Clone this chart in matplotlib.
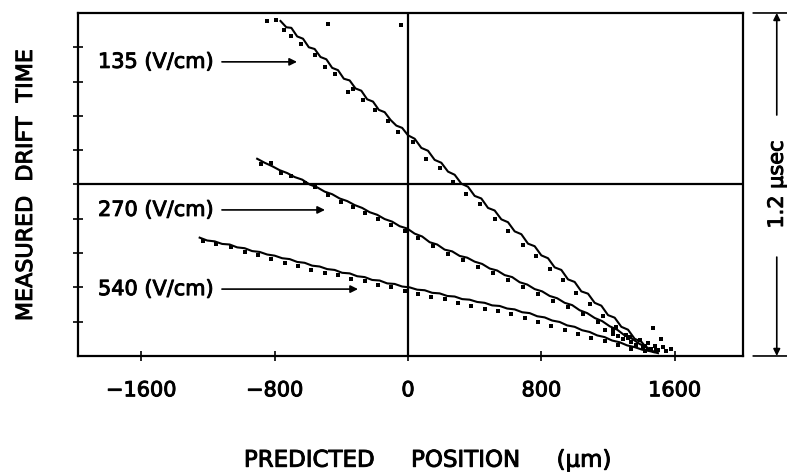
import matplotlib
matplotlib.use("Agg")
import matplotlib.pyplot as plt
import matplotlib.patheffects as pe

# drift time (usec) vs predicted track position (um), three drift fields
fields = ["135 (V/cm)", "270 (V/cm)", "540 (V/cm)"]

pos_135 = [-765, -730, -700, -665, -630, -595, -560, -525, -490, -455, -420, -385, -350,
           -315, -280, -245, -210, -175, -140, -105, -70, -35, 0, 40, 80, 120, 160, 200,
           240, 280, 320, 360, 400, 440, 480, 520, 560, 600, 640, 680, 720, 760, 800, 840,
           880, 920, 960, 1000, 1040, 1080, 1120, 1160, 1200, 1240, 1280, 1320, 1360, 1400,
           1440, 1470]
time_135 = [1.172, 1.150, 1.148, 1.118, 1.110, 1.080, 1.074, 1.046, 1.038, 1.008, 1.000,
            0.970, 0.964, 0.936, 0.928, 0.898, 0.890, 0.861, 0.853, 0.826, 0.806, 0.798,
            0.772, 0.760, 0.728, 0.718, 0.686, 0.676, 0.645, 0.634, 0.603, 0.592, 0.560,
            0.551, 0.518, 0.509, 0.478, 0.468, 0.436, 0.426, 0.393, 0.384, 0.352, 0.342,
            0.310, 0.301, 0.268, 0.259, 0.226, 0.218, 0.186, 0.176, 0.143, 0.134, 0.102,
            0.092, 0.060, 0.050, 0.022, 0.016]

pos_270 = [-905, -860, -815, -770, -725, -680, -635, -590, -545, -500, -455, -410, -365,
           -320, -275, -230, -185, -140, -95, -50, -5, 40, 85, 130, 175, 220, 265, 310,
           355, 400, 445, 490, 535, 580, 625, 670, 715, 760, 805, 850, 895, 940, 985,
           1030, 1075, 1120, 1165, 1210, 1255, 1300, 1345, 1390, 1435, 1475]
time_270 = [0.690, 0.676, 0.664, 0.650, 0.640, 0.626, 0.617, 0.600, 0.590, 0.575, 0.566,
            0.551, 0.542, 0.528, 0.518, 0.503, 0.494, 0.479, 0.470, 0.454, 0.446, 0.428,
            0.418, 0.398, 0.390, 0.372, 0.366, 0.350, 0.344, 0.330, 0.322, 0.306, 0.299,
            0.283, 0.276, 0.258, 0.250, 0.234, 0.226, 0.210, 0.202, 0.186, 0.178, 0.160,
            0.150, 0.133, 0.122, 0.104, 0.092, 0.072, 0.060, 0.042, 0.030, 0.014]

pos_540 = [-1250, -1205, -1160, -1115, -1070, -1025, -980, -935, -890, -845, -800, -755,
           -710, -665, -620, -575, -530, -485, -440, -395, -350, -305, -260, -215, -170,
           -125, -80, -35, 10, 55, 100, 145, 190, 235, 280, 325, 370, 415, 460, 505, 550,
           595, 640, 685, 730, 775, 820, 865, 910, 955, 1000, 1045, 1090, 1135, 1180,
           1225, 1270, 1315, 1360, 1405, 1450, 1500]
time_540 = [0.414, 0.404, 0.401, 0.392, 0.390, 0.380, 0.377, 0.367, 0.364, 0.355, 0.351,
            0.342, 0.339, 0.329, 0.326, 0.316, 0.313, 0.304, 0.301, 0.291, 0.289, 0.279,
            0.276, 0.266, 0.264, 0.254, 0.252, 0.243, 0.240, 0.232, 0.230, 0.221, 0.219,
            0.210, 0.208, 0.199, 0.197, 0.189, 0.186, 0.177, 0.175, 0.166, 0.163, 0.153,
            0.150, 0.139, 0.135, 0.124, 0.119, 0.107, 0.102, 0.090, 0.084, 0.072, 0.066,
            0.054, 0.048, 0.037, 0.031, 0.022, 0.017, 0.010]

# second, fainter band of hits beside each trace
hits_135_x = [-790, -745, -700, -640, -560, -500, -440, -360, -330, -270, -200, -120, -60,
              30, 110, 190, 270, 350, 430, 520, 600, 690, 770, 850, 930, 1010, 1090, 1170,
              1250, 1330, 1410]
hits_135_y = [1.175, 1.140, 1.118, 1.090, 1.052, 1.010, 0.985, 0.922, 0.935, 0.896, 0.862,
              0.822, 0.782, 0.748, 0.690, 0.658, 0.610, 0.566, 0.530, 0.478, 0.436, 0.388,
              0.350, 0.304, 0.266, 0.220, 0.182, 0.140, 0.100, 0.066, 0.030]

hits_270_x = [-880, -820, -760, -700, -620, -560, -480, -400, -330, -260, -180, -100, -20,
              60, 150, 240, 330, 420, 510, 600, 690, 780, 870, 960, 1050, 1140, 1230, 1320,
              1410, 1490]
hits_270_y = [0.672, 0.676, 0.640, 0.628, 0.606, 0.590, 0.564, 0.540, 0.522, 0.500, 0.478,
              0.458, 0.438, 0.412, 0.384, 0.358, 0.336, 0.310, 0.290, 0.266, 0.242, 0.218,
              0.192, 0.170, 0.146, 0.118, 0.090, 0.062, 0.036, 0.020]

hits_540_x = [-1230, -1150, -1060, -980, -900, -820, -740, -660, -580, -500, -420, -340,
              -260, -180, -100, -20, 60, 140, 220, 300, 380, 460, 540, 620, 700, 780, 860,
              940, 1020, 1100, 1180, 1260, 1340, 1420]
hits_540_y = [0.404, 0.392, 0.380, 0.364, 0.352, 0.340, 0.326, 0.316, 0.302, 0.290, 0.282,
              0.268, 0.262, 0.248, 0.242, 0.226, 0.218, 0.206, 0.198, 0.186, 0.176, 0.166,
              0.156, 0.146, 0.132, 0.120, 0.106, 0.092, 0.078, 0.064, 0.052, 0.038, 0.026,
              0.016]

# isolated hits, mostly where the traces run together
stray_x = [-846, -480, -40, 1180, 1230, 1260, 1290, 1310, 1340, 1370, 1390, 1420, 1440,
           1460, 1470, 1480, 1500, 1520, 1530, 1550, 1580]
stray_y = [1.172, 1.161, 1.158, 0.092, 0.078, 0.070, 0.058, 0.074, 0.048, 0.040, 0.056,
           0.034, 0.044, 0.026, 0.098, 0.036, 0.022, 0.060, 0.030, 0.018, 0.026]

# label text position, arrow tip
label_x = -1860
label_y = [1.029, 0.511, 0.234]
arrow_tip = [-666, -498, -300]

xticks = [-1600, -800, 0, 800, 1600]
yticks = [0.12, 0.24, 0.36, 0.48, 0.60, 0.72, 0.84, 0.96, 1.08]

plt.rcParams['font.family'] = ['DejaVu Sans']
# slightly heavier strokes than the regular face
heavy = [pe.withStroke(linewidth=0.7, foreground='black')]

fig = plt.figure(figsize=(7.87, 4.72), dpi=100)
ax = fig.add_axes([0.0991, 0.2458, 0.8450, 0.7267])

for px, t in [(pos_135, time_135), (pos_270, time_270), (pos_540, time_540)]:
    ax.plot(px, t, color='black', lw=1.5, zorder=3)
for hx, hy in [(hits_135_x, hits_135_y), (hits_270_x, hits_270_y), (hits_540_x, hits_540_y)]:
    ax.scatter(hx, hy, s=5, color='black', marker='s', linewidths=0, zorder=3)
ax.scatter(stray_x, stray_y, s=5, color='black', marker='s', linewidths=0, zorder=3)

# crosshair through the middle of the chamber
ax.axhline(0.6, color='black', lw=1.6)
ax.axvline(0, color='black', lw=1.6)

for name, ly, tip in zip(fields, label_y, arrow_tip):
    ax.annotate(name, xy=(tip, ly), xytext=(label_x, ly), fontsize=15,
                ha='left', va='center', path_effects=heavy,
                arrowprops=dict(arrowstyle='-|>', color='black', lw=1.2,
                                mutation_scale=11, shrinkA=4, shrinkB=0,
                                relpos=(1, 0.5)))

ax.set_xlim(-1980, 2010)
ax.set_ylim(0, 1.2)
ax.set_xticks(xticks)
ax.set_xticklabels([str(v).replace('-', '\u2212') for v in xticks], fontsize=15)
for lbl in ax.get_xticklabels():
    lbl.set_path_effects(heavy)
ax.set_yticks(yticks)
ax.set_yticklabels([])
ax.tick_params(axis='both', direction='inout', length=7, width=1.2, color='black')
ax.tick_params(axis='x', pad=14)
for s in ax.spines.values():
    s.set_linewidth(1.6)

fig.text(0.033, 0.608, "MEASURED  DRIFT  TIME", rotation=90, fontsize=16,
         ha='center', va='center', path_effects=heavy)
fig.text(0.543, 0.025, "PREDICTED     POSITION     (\u03bcm)", fontsize=16.5,
         ha='center', va='center', path_effects=heavy)

# 1.2 usec scale bar on the right
bar_x = 0.987
xy_mix = ('figure fraction', 'data')
ax.annotate('', xy=(bar_x, 1.2), xytext=(bar_x, 0.843), xycoords=xy_mix, textcoords=xy_mix,
            arrowprops=dict(arrowstyle='-|>', color='black', lw=1.2, mutation_scale=10,
                            shrinkA=0, shrinkB=0))
ax.annotate('', xy=(bar_x, 0), xytext=(bar_x, 0.346), xycoords=xy_mix, textcoords=xy_mix,
            arrowprops=dict(arrowstyle='-|>', color='black', lw=1.2, mutation_scale=10,
                            shrinkA=0, shrinkB=0))
ax.annotate('', xy=(0.957, 1.2), xytext=(1.0, 1.2), xycoords=xy_mix, textcoords=xy_mix,
            arrowprops=dict(arrowstyle='-', color='black', lw=1.2, shrinkA=0, shrinkB=0))
ax.annotate('', xy=(0.957, 0), xytext=(1.0, 0), xycoords=xy_mix, textcoords=xy_mix,
            arrowprops=dict(arrowstyle='-', color='black', lw=1.2, shrinkA=0, shrinkB=0))
ax.annotate("1.2 \u03bcsec", xy=(bar_x, 0.6), xycoords=xy_mix, rotation=90,
            fontsize=15, ha='center', va='center', path_effects=heavy)

fig.savefig("out.png", dpi=100)
